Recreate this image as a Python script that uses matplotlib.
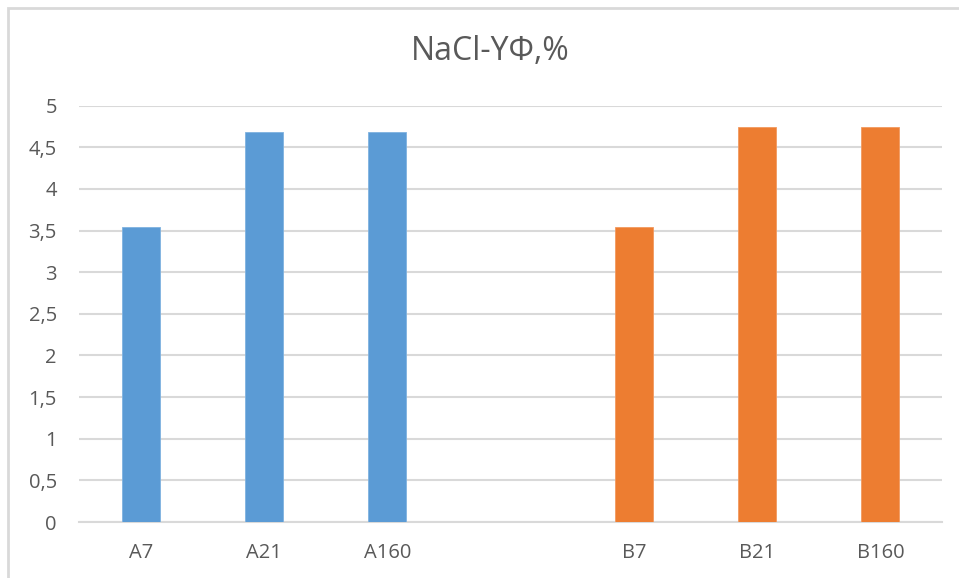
import numpy as np
import matplotlib
matplotlib.use("Agg")
import matplotlib.pyplot as plt
from matplotlib.patches import Rectangle

categories = ["A7", "A21", "A160", "", "B7", "B21", "B160"]
series_a = [3.54, 4.68, 4.68, np.nan, np.nan, np.nan, np.nan]
series_b = [np.nan, np.nan, np.nan, np.nan, 3.54, 4.74, 4.74]
y_ticks = [0, 0.5, 1, 1.5, 2, 2.5, 3, 3.5, 4, 4.5, 5]
title = "NaCl-YΦ,%"

blue = "#5B9BD5"
orange = "#ED7D31"
text_gray = "#595959"
grid_gray = "#D9D9D9"
label_font = ["Open Sans", "DejaVu Sans"]

fig = plt.figure(figsize=(9.59, 5.78), dpi=100)
ax = fig.add_axes([79 / 959, 1 - 522 / 578, (942 - 79) / 959, (522 - 105.7) / 578])

x = np.arange(len(categories))
ax.bar(x, series_a, width=0.31, color=blue, edgecolor="#7FB2E0", linewidth=0.6, zorder=3)
ax.bar(x, series_b, width=0.31, color=orange, edgecolor="#F29A60", linewidth=0.6, zorder=3)

ax.set_xlim(-0.5, len(categories) - 0.5)
ax.set_ylim(0, 5)
ax.set_yticks(y_ticks)
ax.set_yticklabels([f"{v:g}".replace(".", ",") for v in y_ticks])
ax.set_xticks(x)
ax.set_xticklabels(categories)

for lbl in ax.get_xticklabels() + ax.get_yticklabels():
    lbl.set_family(label_font)
    lbl.set_fontsize(14.5)
    lbl.set_color(text_gray)

ax.tick_params(axis="y", length=0, pad=16)
ax.tick_params(axis="x", length=0, pad=15)
ax.grid(axis="y", color=grid_gray, linewidth=1.5, zorder=0)
for side in ["left", "right", "top"]:
    ax.spines[side].set_visible(False)
ax.spines["bottom"].set_color(grid_gray)
ax.spines["bottom"].set_linewidth(1.5)

fig.text(490 / 959, 1 - 51 / 578, title, ha="center", va="center",
         fontsize=23, color=text_gray, family=["Open Sans", "DejaVu Sans"])

# outer chart frame
fig.patches.append(Rectangle((8 / 959, -0.05), 1.1, 1 - 8 / 578 + 0.05,
                             transform=fig.transFigure, fill=False,
                             edgecolor=grid_gray, linewidth=2))

fig.savefig("out.png", dpi=100)
